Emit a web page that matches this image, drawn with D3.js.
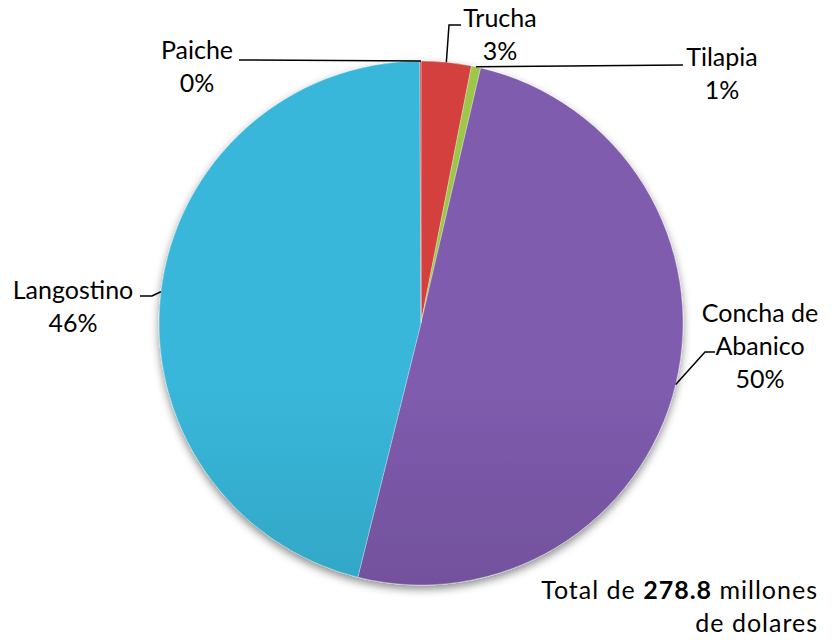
<!DOCTYPE html>
<html>
<head>
<meta charset="utf-8">
<script src="https://cdn.jsdelivr.net/npm/d3@7"></script>
<style>
  body { margin: 0; background: #fff; }
  text { font-family: Lato, "Open Sans", sans-serif; font-size: 25px; fill: #000; }
</style>
</head>
<body>
<div id="chart"></div>
<script>
// Data (millones de dolares)
let categories = ['Trucha', 'Tilapia', 'Concha de Abanico', 'Langostino', 'Paiche']
let values = [8.6, 1.6, 140.0, 128.4, 0.2]
let pctLabels = ['3%', '1%', '50%', '46%', '0%']
let total = 278.8

// Colours: top and bottom of the shading
let colorsTop = ['#d3413c', '#9dc74a', '#805cae', '#38b7da']
let colorsBottom = ['#c0372f', '#8db53d', '#5c3f80', '#2a8ca6']

let svgWidth = 834, svgHeight = 644
let cx = 421, cy = 323, r = 262

let svg = d3.select('#chart')
    .append('svg')
    .attr('width', svgWidth)
    .attr('height', svgHeight)

let defs = svg.append('defs')

// Drop shadow under the pie
let filter = defs.append('filter')
    .attr('id', 'shadow')
    .attr('x', '-20%').attr('y', '-20%')
    .attr('width', '140%').attr('height', '140%')
filter.append('feDropShadow')
    .attr('dx', 0).attr('dy', 4)
    .attr('stdDeviation', 4)
    .attr('flood-color', '#000')
    .attr('flood-opacity', 0.45)

// Vertical shading gradients
categories.forEach((c, i) => {
    let k = i % colorsTop.length
    let grad = defs.append('linearGradient')
        .attr('id', 'grad' + i)
        .attr('gradientUnits', 'userSpaceOnUse')
        .attr('x1', 0).attr('y1', cy - r)
        .attr('x2', 0).attr('y2', cy + r)
    grad.append('stop').attr('offset', '0%').attr('stop-color', colorsTop[k])
    grad.append('stop').attr('offset', '100%').attr('stop-color', colorsBottom[k])
})

let g = svg.append('g')
    .attr('transform', 'translate(' + cx + ',' + cy + ')')

let pie = d3.pie().sort(null).value(d => d)
let arcs = pie(values)
let arc = d3.arc().innerRadius(0).outerRadius(r)

g.append('g')
    .attr('filter', 'url(#shadow)')
    .selectAll('path')
    .data(arcs)
    .enter()
    .append('path')
    .attr('d', arc)
    .attr('fill', (d, i) => 'url(#grad' + i + ')')
    .attr('stroke', 'rgba(255,255,255,0.5)')
    .attr('stroke-width', 0.6)

// Label layout: text anchor point (relative to centre) and leader elbow
let labelLayout = [
    { lines: ['Trucha'], x: 79, y: -296, elbow: [28, -298], end: [40, -298] },
    { lines: ['Tilapia'], x: 301, y: -257, elbow: [262, -258], end: [262, -258] },
    { lines: ['Concha de', 'Abanico'], x: 339, y: -1, elbow: [284, 29], end: [294, 29] },
    { lines: ['Langostino'], x: -348, y: -24, elbow: [-269, -27], end: [-281, -27] },
    { lines: ['Paiche'], x: -224, y: -264, elbow: [-182, -263], end: [-182, -263] }
]

let lineH = 33
let labels = g.append('g')

arcs.forEach((d, i) => {
    let L = labelLayout[i]
    let mid = (d.startAngle + d.endAngle) / 2
    let px = Math.sin(mid) * r, py = -Math.cos(mid) * r
    if (i === 4) { px = 0; py = -r }
    labels.append('path')
        .attr('d', 'M' + px + ',' + py + 'L' + L.elbow[0] + ',' + L.elbow[1] + 'L' + L.end[0] + ',' + L.end[1])
        .attr('fill', 'none')
        .attr('stroke', '#000')
        .attr('stroke-width', 1.5)
    let t = labels.append('text')
        .attr('text-anchor', 'middle')
    L.lines.concat([pctLabels[i]]).forEach((s, j) => {
        t.append('tspan')
            .attr('x', L.x)
            .attr('y', L.y + j * lineH)
            .text(s)
    })
})

// Total note
let note = svg.append('text')
    .attr('text-anchor', 'end')
    .attr('letter-spacing', 1)
note.append('tspan').attr('x', 818).attr('y', 599).text('Total de ')
note.append('tspan').attr('font-weight', 'bold').text(d3.format('.1f')(total))
note.append('tspan').text(' millones')
note.append('tspan').attr('x', 818).attr('y', 632).text('de dolares')
</script>
</body>
</html>
